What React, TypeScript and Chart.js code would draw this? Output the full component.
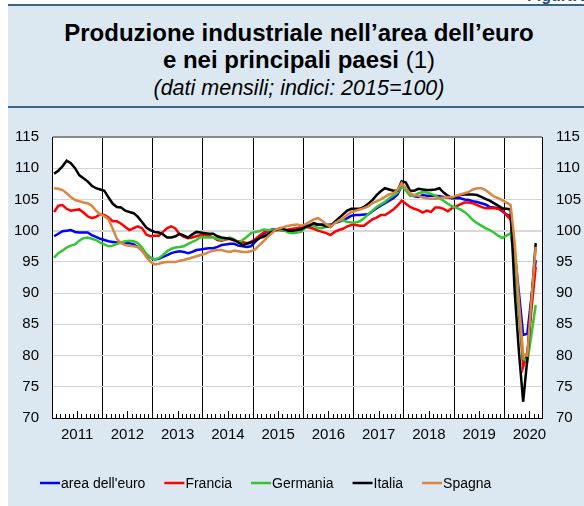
import React, { useEffect, useRef } from 'react';
import { Chart, registerables } from 'chart.js';

Chart.register(...registerables);

// ---- data (monthly, Jan 2011 .. Aug 2020) ----
const yearLabels = ['2011', '2012', '2013', '2014', '2015', '2016', '2017', '2018', '2019', '2020'];
const seriesNames = ["area dell'euro", 'Francia', 'Germania', 'Italia', 'Spagna'];
const seriesColors = ['#0000ff', '#ff0000', '#33c633', '#000000', '#da8640'];

const areaEuro = [
  99.1, 99.5, 99.9, 100.0, 100.1, 99.8, 99.7, 99.7, 99.7, 99.3, 99.0, 98.7,
  98.5, 98.3, 98.2, 98.1, 98.1, 98.0, 98.0, 97.8, 97.4, 96.8, 96.1, 95.7,
  95.4, 95.5, 95.8, 96.1, 96.4, 96.6, 96.7, 96.6, 96.4, 96.6, 96.9, 97.0,
  97.1, 97.2, 97.2, 97.4, 97.7, 97.8, 97.9, 97.9, 97.6, 97.5, 97.4, 97.5,
  98.2, 98.8, 99.5, 99.9, 100.2, 100.2, 100.1, 100.1, 100.0, 100.0, 100.3, 100.6,
  100.8, 100.9, 100.9, 101.0, 101.0, 100.9, 101.0, 101.2, 101.4, 101.7, 102.0, 102.4,
  102.5, 102.5, 102.6, 102.6, 103.1, 103.6, 104.0, 104.4, 104.8, 105.2, 105.8, 107.2,
  106.6, 105.9, 105.5, 105.4, 105.7, 105.6, 105.6, 105.6, 105.5, 105.4, 105.3, 105.2,
  105.2, 105.2, 105.0, 104.9, 104.7, 104.6, 104.4, 104.2, 103.8, 103.7, 103.6, 103.1,
  102.6, 102.3, 96.5, 90.0, 83.3, 83.5, 89.5, 95.3,
];
const francia = [
  103.0, 104.0, 104.1, 103.5, 103.2, 103.3, 103.4, 102.9, 102.3, 102.0, 102.2, 102.6,
  102.5, 102.1, 101.5, 101.5, 101.1, 100.6, 100.1, 100.4, 100.7, 100.4, 99.4, 99.1,
  99.2, 99.2, 99.8, 100.4, 100.7, 100.3, 99.4, 99.0, 98.8, 98.9, 99.1, 99.3,
  99.3, 99.2, 98.9, 98.5, 98.4, 98.6, 98.7, 98.4, 98.3, 98.2, 98.0, 98.2,
  98.6, 99.2, 99.7, 100.0, 100.0, 100.1, 100.1, 100.0, 100.2, 100.3, 100.4, 100.5,
  100.6, 100.5, 100.3, 100.0, 99.8, 99.6, 99.3, 99.8, 100.1, 100.3, 100.7, 100.9,
  100.9, 100.8, 100.8, 101.3, 101.8, 102.1, 102.5, 102.5, 102.9, 103.4, 104.0, 104.8,
  104.3, 103.8, 103.5, 103.3, 102.9, 103.2, 103.0, 103.7, 103.7, 103.5, 103.1, 103.6,
  103.9, 104.2, 104.5, 104.5, 104.4, 104.1, 103.8, 103.6, 103.6, 103.6, 103.5, 103.3,
  102.5, 101.8, 95.5, 87.0, 78.2, 80.5, 87.5, 94.2,
];
const germania = [
  95.7, 96.4, 96.8, 97.3, 97.6, 97.8, 98.4, 98.8, 98.9, 98.7, 98.5, 98.1,
  97.8, 97.5, 97.6, 97.9, 98.1, 98.3, 98.4, 98.3, 98.0, 97.3, 96.3, 95.7,
  95.4, 95.6, 96.1, 96.7, 97.1, 97.3, 97.4, 97.5, 97.9, 98.2, 98.5, 99.0,
  98.9, 98.9, 98.9, 98.7, 98.5, 98.7, 98.9, 98.6, 98.1, 98.5, 99.0, 99.6,
  99.8, 99.9, 100.2, 100.1, 100.1, 100.1, 100.2, 100.0, 99.7, 99.6, 99.7, 99.8,
  100.5, 100.9, 100.8, 100.4, 100.4, 100.6, 100.9, 101.2, 101.6, 101.7, 101.4, 101.3,
  101.3, 101.5, 102.0, 102.6, 103.2, 103.8, 104.2, 104.6, 105.2, 105.6, 106.1, 107.2,
  106.4, 105.6, 105.6, 106.0, 106.2, 106.1, 105.9, 105.6, 105.2, 104.8, 104.3, 103.9,
  103.7, 103.4, 103.0, 102.4, 101.7, 101.2, 100.8, 100.4, 100.1, 99.7, 99.2, 98.8,
  99.2, 99.6, 95.0, 87.0, 79.5, 79.0, 83.5, 88.1,
];
const italia = [
  109.1, 109.6, 110.3, 111.2, 110.8, 110.0, 108.9, 108.4, 107.9, 107.2, 106.8, 106.6,
  106.4, 105.3, 104.3, 103.8, 103.7, 103.2, 103.0, 102.8, 102.2, 101.4, 100.5, 100.1,
  99.8, 99.7, 99.4, 98.9, 98.9, 99.1, 99.5, 99.2, 98.9, 99.4, 99.8, 99.7,
  99.6, 99.5, 99.5, 99.1, 98.9, 98.8, 98.7, 98.5, 98.1, 97.7, 97.9, 98.1,
  98.4, 98.8, 99.0, 99.4, 99.8, 100.1, 100.4, 100.2, 100.0, 100.0, 100.1, 100.2,
  100.6, 100.8, 101.2, 101.0, 100.9, 100.7, 100.6, 101.4, 102.0, 102.6, 103.2, 103.5,
  103.5, 103.5, 103.8, 104.3, 104.9, 105.7, 106.3, 106.8, 106.6, 106.4, 106.4, 107.9,
  107.7, 106.4, 106.4, 106.7, 106.6, 106.5, 106.5, 106.6, 106.8, 106.1, 105.6, 105.2,
  105.5, 105.7, 105.8, 105.8, 105.8, 105.7, 105.4, 105.1, 104.8, 104.4, 104.0, 103.6,
  103.5, 103.4, 90.0, 80.5, 72.6, 79.5, 89.0, 98.0,
];
const spagna = [
  106.8, 106.7, 106.5, 106.0, 105.4, 104.9, 104.7, 104.5, 104.4, 104.0, 103.2, 102.6,
  102.3, 101.8, 100.3, 98.7, 98.0, 97.7, 97.6, 97.5, 97.4, 96.8, 95.8, 95.0,
  94.6, 94.7, 94.9, 95.0, 95.0, 95.0, 95.2, 95.3, 95.5, 95.7, 95.9, 96.1,
  96.3, 96.6, 96.8, 96.9, 96.9, 96.7, 96.6, 96.8, 96.7, 96.6, 96.6, 96.7,
  97.0, 97.7, 98.3, 99.0, 99.6, 100.2, 100.4, 100.6, 100.8, 100.9, 101.0, 100.8,
  101.0, 101.4, 101.8, 102.0, 101.6, 101.0, 100.6, 101.2, 101.6, 102.0, 102.5, 103.0,
  103.2, 103.4, 103.6, 103.9, 104.4, 104.7, 105.0, 105.4, 105.8, 106.0, 106.5, 107.6,
  106.8, 106.0, 105.7, 105.6, 105.3, 105.2, 105.1, 105.1, 105.2, 105.3, 105.4, 105.3,
  105.6, 105.8, 106.0, 106.2, 106.6, 106.8, 106.8, 106.5, 106.0, 105.5, 105.2, 104.9,
  104.5, 104.1, 98.0, 88.5, 80.2, 80.0, 89.0, 97.4,
];
const allSeries = [areaEuro, francia, germania, italia, spagna];

const yMin = 70;
const yMax = 115;
const yStep = 5;
const monthsOnAxis = 117; // Jan 2011 .. end of Sep 2020

const FONT = '"Liberation Sans", Arial, Helvetica, sans-serif';
const PANEL_BG = '#dce8f1';
const DARK_LINE = '#3a6684';

const plotBgPlugin = {
  id: 'plotBg',
  beforeDraw(chart: any) {
    const { ctx, chartArea: a } = chart;
    ctx.save();
    ctx.fillStyle = '#ffffff';
    ctx.fillRect(a.left, a.top, a.right - a.left, a.bottom - a.top);
    ctx.restore();
  },
};

const monthTicksPlugin = {
  id: 'monthTicks',
  afterDatasetsDraw(chart: any) {
    const { ctx, chartArea: a } = chart;
    const xs = chart.scales.x;
    ctx.save();
    ctx.strokeStyle = '#000';
    ctx.lineWidth = 1;
    for (let m = 1; m < monthsOnAxis; m++) {
      if (m % 12 === 0) continue;
      const px = Math.round(xs.getPixelForValue(m)) + 0.5;
      const len = m % 12 === 6 ? 7 : 4;
      ctx.beginPath();
      ctx.moveTo(px, a.bottom);
      ctx.lineTo(px, a.bottom - len);
      ctx.stroke();
    }
    ctx.restore();
  },
};

const legendPlugin = {
  id: 'customLegend',
  afterDraw(chart: any) {
    const { ctx } = chart;
    ctx.save();
    ctx.font = `14px ${FONT}`;
    ctx.textBaseline = 'middle';
    ctx.textAlign = 'left';
    let x = 32;
    const y = 373;
    seriesNames.forEach((name, i) => {
      ctx.strokeStyle = seriesColors[i];
      ctx.lineWidth = 2.5;
      ctx.beginPath();
      ctx.moveTo(x, y);
      ctx.lineTo(x + 20, y);
      ctx.stroke();
      ctx.fillStyle = '#000';
      ctx.fillText(name, x + 21, y + 1);
      x += 21 + ctx.measureText(name).width + 19;
    });
    ctx.restore();
  },
};

export default function App() {
  const ref = useRef<HTMLCanvasElement | null>(null);

  useEffect(() => {
    document.body.style.margin = '0';
    if (!ref.current) return;
    const datasets = allSeries.map((vals, i) => ({
      label: seriesNames[i],
      data: vals.map((v, k) => ({ x: k + 0.5, y: v })),
      borderColor: seriesColors[i],
      backgroundColor: seriesColors[i],
      borderWidth: 2.5,
      pointRadius: 0,
      tension: 0,
      fill: false,
      order: seriesNames.length - i,
    }));
    const chart = new Chart(ref.current, {
      type: 'line',
      data: { datasets },
      plugins: [plotBgPlugin, monthTicksPlugin, legendPlugin],
      options: {
        animation: false,
        responsive: false,
        devicePixelRatio: 1,
        layout: { padding: { top: 27, left: 0, right: 0, bottom: 0 } },
        plugins: { legend: { display: false }, tooltip: { enabled: false } },
        font: { family: FONT },
        scales: {
          x: {
            type: 'linear',
            min: 0,
            max: monthsOnAxis,
            afterBuildTicks(scale: any) {
              const t = [];
              for (let m = 0; m <= monthsOnAxis; m++) t.push({ value: m });
              scale.ticks = t;
            },
            afterFit(scale: any) {
              scale.height = 88;
            },
            ticks: {
              autoSkip: false,
              maxRotation: 0,
              padding: 8,
              color: '#000',
              font: { family: FONT, size: 15 },
              callback: (value: any) => {
                const v = Number(value);
                return v % 12 === 6 ? yearLabels[(v - 6) / 12] : '';
              },
            },
            grid: {
              drawTicks: false,
              color: (c: any) => {
                const v = c.tick ? c.tick.value : 0;
                return v % 12 === 0 && v > 0 && v < monthsOnAxis ? '#000' : 'rgba(0,0,0,0)';
              },
              lineWidth: 1,
            },
            border: { display: true, color: '#000', width: 1 },
          },
          y: {
            type: 'linear',
            position: 'left',
            min: yMin,
            max: yMax,
            afterFit(scale: any) {
              scale.width = 44;
            },
            ticks: {
              stepSize: yStep,
              padding: 13,
              color: '#000',
              font: { family: FONT, size: 15 },
            },
            grid: {
              drawTicks: false,
              color: (c: any) => {
                const v = c.tick ? c.tick.value : 0;
                if (v === yMax) return '#8a8a8a';
                if (v === 100) return '#d8d8d8';
                return '#d4d4d4';
              },
              lineWidth: (c: any) => {
                const v = c.tick ? c.tick.value : 0;
                if (v === yMax || v === 100) return 2;
                return 1;
              },
            },
            border: { display: true, color: '#000', width: 1 },
          },
          y2: {
            type: 'linear',
            position: 'right',
            min: yMin,
            max: yMax,
            afterFit(scale: any) {
              scale.width = 42;
            },
            ticks: {
              stepSize: yStep,
              padding: 14,
              color: '#000',
              font: { family: FONT, size: 15 },
            },
            grid: { display: false, drawTicks: false },
            border: { display: true, color: '#000', width: 1 },
          },
        },
      },
    } as any);
    return () => chart.destroy();
  }, []);

  return (
    <div
      style={{
        position: 'relative',
        marginTop: 0,
        marginLeft: 8,
        width: 576,
        height: 506,
        background: PANEL_BG,
        fontFamily: FONT,
        overflow: 'hidden',
      }}
    >
      <div
        style={{
          position: 'absolute',
          top: 0,
          left: 0,
          width: 576,
          height: 4,
          background: '#ffffff',
          overflow: 'hidden',
        }}
      >
        <div
          style={{
            position: 'absolute',
            left: 519,
            top: -12,
            fontSize: 16,
            lineHeight: '16px',
            fontWeight: 'bold',
            color: '#1f4e79',
            whiteSpace: 'nowrap',
          }}
        >
          Figura 1
        </div>
      </div>
      <div style={{ position: 'absolute', top: 4, left: 0, width: 576, height: 2, background: DARK_LINE }} />
      <div style={{ position: 'absolute', top: 106, left: 0, width: 576, height: 2, background: DARK_LINE }} />
      <div
        style={{
          position: 'absolute',
          top: 19,
          left: 3,
          width: 576,
          textAlign: 'center',
          fontSize: 24,
          lineHeight: '27px',
          fontWeight: 'bold',
          color: '#000',
        }}
      >
        <div>Produzione industriale nell’area dell’euro</div>
        <div>
          e nei principali paesi <span style={{ fontWeight: 'normal' }}>(1)</span>
        </div>
      </div>
      <div
        style={{
          position: 'absolute',
          top: 76,
          left: 3,
          width: 576,
          textAlign: 'center',
          fontSize: 21.5,
          lineHeight: '24px',
          fontStyle: 'italic',
          color: '#000',
        }}
      >
        (dati mensili; indici: 2015=100)
      </div>
      <div style={{ position: 'absolute', top: 110, left: 0, width: 576, height: 396 }}>
        <canvas ref={ref} width={576} height={396} style={{ display: 'block', width: 576, height: 396 }} />
      </div>
    </div>
  );
}
